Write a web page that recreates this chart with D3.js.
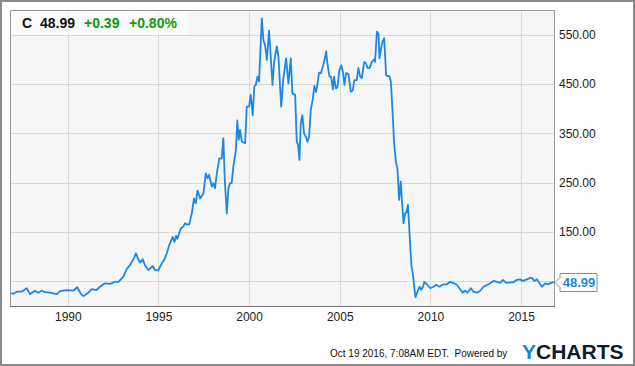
<!DOCTYPE html>
<html>
<head>
<meta charset="utf-8">
<script src="https://cdn.jsdelivr.net/npm/d3@7"></script>
<style>
  body { margin: 0; background: #fff; }
  svg { display: block; font-family: "Liberation Sans", Arial, sans-serif; }
</style>
</head>
<body>
<div id="chart"></div>
<script>
'use strict';

// decimal years
var dates = [
  1986.81, 1986.99, 1987.18, 1987.46, 1987.73, 1987.91, 1988.19, 1988.37, 1988.56, 1988.74,
  1989.02, 1989.39, 1989.57, 1989.94, 1990.30, 1990.52, 1990.71, 1990.86, 1991.13, 1991.32,
  1991.56, 1991.78, 1992.05, 1992.33, 1992.60, 1992.79, 1993.06, 1993.25, 1993.43, 1993.65,
  1993.76, 1993.89, 1993.98, 1994.13, 1994.26, 1994.44, 1994.68, 1994.81, 1994.99, 1995.18,
  1995.31, 1995.46, 1995.60, 1995.79, 1995.88, 1995.97, 1996.04, 1996.23, 1996.37, 1996.47,
  1996.56, 1996.70, 1996.84, 1996.96, 1997.06, 1997.15, 1997.30, 1997.48, 1997.61, 1997.70,
  1997.79, 1997.94, 1998.03, 1998.12, 1998.22, 1998.36, 1998.49, 1998.58, 1998.66, 1998.77,
  1998.86, 1998.95, 1999.04, 1999.13, 1999.27, 1999.35, 1999.43, 1999.50, 1999.60, 1999.78,
  1999.87, 2000.00, 2000.09, 2000.20, 2000.29, 2000.37, 2000.46, 2000.55, 2000.70, 2000.79,
  2000.88, 2000.98, 2001.10, 2001.20, 2001.29, 2001.38, 2001.53, 2001.62, 2001.77, 2001.89,
  2002.04, 2002.17, 2002.30, 2002.39, 2002.54, 2002.63, 2002.70, 2002.78, 2002.85, 2002.94,
  2003.03, 2003.13, 2003.22, 2003.31, 2003.40, 2003.52, 2003.60, 2003.70, 2003.79, 2003.86,
  2003.96, 2004.04, 2004.14, 2004.25, 2004.32, 2004.43, 2004.53, 2004.62, 2004.69, 2004.78,
  2004.87, 2004.98, 2005.09, 2005.17, 2005.26, 2005.35, 2005.48, 2005.61, 2005.72, 2005.81,
  2005.94, 2006.03, 2006.13, 2006.22, 2006.35, 2006.44, 2006.55, 2006.64, 2006.77, 2006.90,
  2006.95, 2007.05, 2007.14, 2007.19, 2007.28, 2007.36, 2007.45, 2007.56, 2007.65, 2007.74,
  2007.82, 2007.91, 2008.00, 2008.10, 2008.18, 2008.24, 2008.28, 2008.37, 2008.43, 2008.52,
  2008.61, 2008.68, 2008.76, 2008.81, 2008.89, 2008.96, 2009.03, 2009.11, 2009.18, 2009.29,
  2009.40, 2009.49, 2009.59, 2009.67, 2009.81, 2009.99, 2010.17, 2010.32, 2010.50, 2010.72,
  2010.91, 2011.09, 2011.31, 2011.46, 2011.64, 2011.79, 2011.92, 2012.05, 2012.23, 2012.38,
  2012.57, 2012.75, 2012.93, 2013.15, 2013.34, 2013.48, 2013.67, 2013.85, 2014.00, 2014.18,
  2014.40, 2014.58, 2014.77, 2014.95, 2015.10, 2015.32, 2015.51, 2015.60, 2015.73, 2015.88,
  2016.02, 2016.15, 2016.33, 2016.46, 2016.61, 2016.80
];

var prices = [
  25.7, 25, 29, 29, 36, 24, 31, 27, 31, 28,
  27, 24, 30, 32, 31, 38, 25, 20, 27, 34,
  32, 39, 46, 45, 49, 49, 59, 75, 83, 97,
  107, 94, 88, 95, 82, 73, 81, 73, 72, 86.5,
  93, 107, 124, 140, 130, 142, 136, 157, 161, 168,
  165, 166, 188, 218, 208, 234, 218, 228, 269, 259,
  266, 242, 249, 239, 269, 299, 299, 340, 255, 188,
  239, 249, 249, 282, 316, 376, 337, 357, 333, 330,
  404, 404, 428, 387, 445, 448, 465, 455, 583, 539,
  529, 499, 558, 502, 448, 495, 526, 505, 404, 461,
  502, 451, 502, 431, 428, 333, 327, 296, 370, 387,
  350, 343, 333, 343, 397, 421, 446, 434, 455, 473,
  472, 482, 495, 516, 492, 466, 464, 439, 465, 441,
  443, 478, 488, 475, 448, 472, 470, 434, 437, 458,
  458, 482, 465, 462, 495, 492, 482, 482, 495, 500,
  495, 556, 552, 502, 522, 536, 543, 468, 466, 466,
  455, 397, 330, 292, 279, 242, 215, 252, 215, 168,
  188, 190, 205, 174, 120, 80, 66, 39, 18, 29,
  39, 33, 39, 49, 44, 36, 39, 43, 39, 44,
  44, 49, 46, 43, 34, 27, 31, 27, 36, 29,
  27, 31, 39, 43, 47, 51, 49, 47, 53, 47,
  48, 48, 53, 54, 51, 54, 57, 57, 51, 54,
  46, 39, 46, 44, 46, 48.99
];

var yearTicks = [1990, 1995, 2000, 2005, 2010, 2015];
var priceTicks = [150, 250, 350, 450, 550];
var gridPrices = [50, 150, 250, 350, 450, 550];
var xDomain = [1986.81, 2016.82];
var yDomain = [0, 600];

var header = [
  {text: "C", color: "#111"},
  {text: "48.99", color: "#111"},
  {text: "+0.39", color: "#0f9a0f"},
  {text: "+0.80%", color: "#0f9a0f"}
];
var lastPrice = "48.99";
var stamp = "Oct 19 2016, 7:08AM EDT.  Powered by";

var W = 635, H = 366;
var m = {left: 10, top: 10, right: 554, bottom: 306};

var svg = d3.select("#chart").append("svg")
  .attr("width", W)
  .attr("height", H);

// outer frame
svg.append("rect")
  .attr("x", 1).attr("y", 1)
  .attr("width", W - 2).attr("height", H - 2)
  .attr("fill", "#fff")
  .attr("stroke", "#8a8a8a")
  .attr("stroke-width", 2);

var x = d3.scaleLinear().domain(xDomain).range([m.left, m.right]);
var y = d3.scaleLinear().domain(yDomain).range([m.bottom, m.top]);

// plot background
svg.append("rect")
  .attr("x", m.left).attr("y", m.top)
  .attr("width", m.right - m.left).attr("height", m.bottom - m.top)
  .attr("fill", "#f6f6f6");

// grid
svg.append("g").selectAll("line.v")
  .data(yearTicks)
  .enter().append("line")
    .attr("x1", function(d) { return Math.round(x(d)) + 0.5; })
    .attr("x2", function(d) { return Math.round(x(d)) + 0.5; })
    .attr("y1", m.top).attr("y2", m.bottom)
    .attr("stroke", "#d9d9d9");

svg.append("g").selectAll("line.h")
  .data(gridPrices)
  .enter().append("line")
    .attr("x1", m.left).attr("x2", m.right)
    .attr("y1", function(d) { return Math.round(y(d)) + 0.5; })
    .attr("y2", function(d) { return Math.round(y(d)) + 0.5; })
    .attr("stroke", "#d9d9d9");

// price line
var line = d3.line()
  .x(function(d, i) { return x(dates[i]); })
  .y(function(d) { return y(d); });

svg.append("path")
  .datum(prices)
  .attr("d", line)
  .attr("fill", "none")
  .attr("stroke", "#1b87e6")
  .attr("stroke-width", 1.8)
  .attr("stroke-linejoin", "round");

// plot frame
svg.append("rect")
  .attr("x", m.left + 0.5).attr("y", m.top + 0.5)
  .attr("width", m.right - m.left).attr("height", m.bottom - m.top)
  .attr("fill", "none")
  .attr("stroke", "#9a9a9a");

svg.append("line")
  .attr("x1", m.left).attr("x2", m.right + 1)
  .attr("y1", m.bottom + 0.5).attr("y2", m.bottom + 0.5)
  .attr("stroke", "#777");

// axes
var xAxis = d3.axisBottom(x).tickValues(yearTicks).tickSize(0).tickPadding(6)
  .tickFormat(d3.format("d"));
var gx = svg.append("g")
  .attr("transform", "translate(0," + m.bottom + ")")
  .call(xAxis);
gx.select(".domain").remove();
gx.selectAll("text")
  .attr("font-size", 12)
  .attr("font-family", "'Liberation Sans', Arial, sans-serif")
  .attr("fill", "#222");

var yAxis = d3.axisRight(y).tickValues(priceTicks).tickSize(0).tickPadding(5)
  .tickFormat(d3.format(".2f"));
var gy = svg.append("g")
  .attr("transform", "translate(" + m.right + ",0)")
  .call(yAxis);
gy.select(".domain").remove();
gy.selectAll("text")
  .attr("font-size", 12)
  .attr("font-family", "'Liberation Sans', Arial, sans-serif")
  .attr("fill", "#222");

// last value flag
var ly = Math.round(y(prices[prices.length - 1])) + 0.5;
var fx = m.right + 1;
svg.append("path")
  .attr("d", "M" + fx + "," + ly + "L" + (fx + 5) + "," + (ly - 5) + "V" + (ly - 9) +
    "H" + (fx + 42) + "V" + (ly + 9) + "H" + (fx + 5) + "V" + (ly + 5) + "Z")
  .attr("fill", "#fff")
  .attr("stroke", "#8a8a8a");
svg.append("text")
  .attr("x", fx + 24).attr("y", ly + 4.5)
  .attr("text-anchor", "middle")
  .attr("font-size", 13)
  .attr("font-weight", "bold")
  .attr("fill", "#1b87e6")
  .text(lastPrice);

// header strip
svg.append("rect")
  .attr("x", m.left + 1).attr("y", m.top + 1)
  .attr("width", 177).attr("height", 24)
  .attr("fill", "#fff")
  .attr("fill-opacity", 0.6);

var hx = [22, 40, 84, 129];
svg.append("g").selectAll("text")
  .data(header)
  .enter().append("text")
    .attr("x", function(d, i) { return hx[i]; })
    .attr("y", 28)
    .attr("font-size", 14)
    .attr("font-weight", "bold")
    .attr("fill", function(d) { return d.color; })
    .text(function(d) { return d.text; });

// footer
svg.append("text")
  .attr("x", 330).attr("y", 357)
  .attr("font-size", 10)
  .attr("fill", "#111")
  .attr("xml:space", "preserve")
  .text(stamp);

var logo = svg.append("text")
  .attr("x", 522).attr("y", 359)
  .attr("font-size", 21)
  .attr("font-weight", "900")
  .attr("font-family", "'Liberation Sans', Arial, sans-serif");
logo.append("tspan").attr("fill", "#1a86dc").text("Y");
logo.append("tspan").attr("fill", "#0e1b31").text("CHARTS");
</script>
</body>
</html>
